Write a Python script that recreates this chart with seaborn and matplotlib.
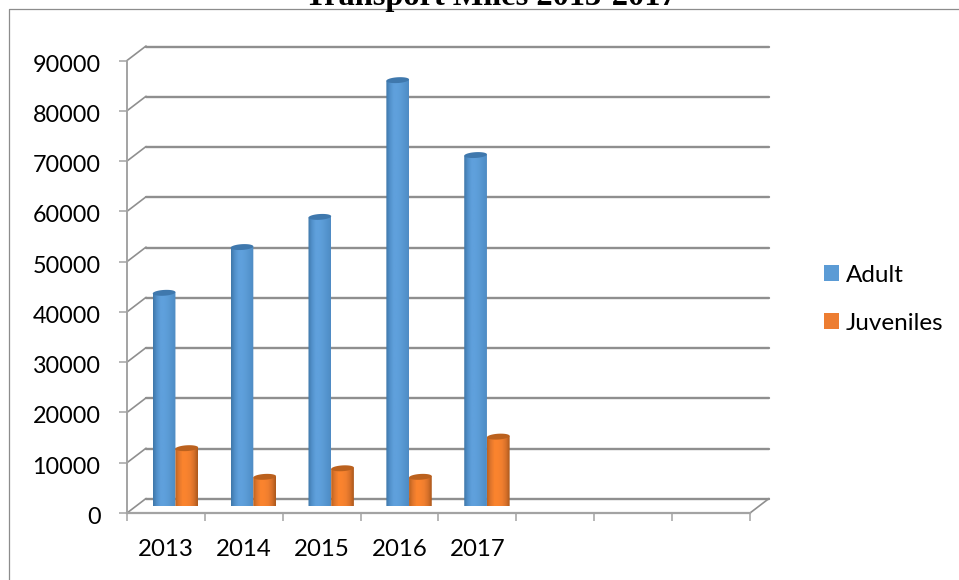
import numpy as np
import pandas as pd
import matplotlib
matplotlib.use("Agg")
import matplotlib.pyplot as plt
import seaborn as sns
from matplotlib.lines import Line2D
from matplotlib.path import Path
from matplotlib.patches import PathPatch
from matplotlib.colors import LinearSegmentedColormap
from matplotlib.transforms import ScaledTranslation

# Data
years = ["2013", "2014", "2015", "2016", "2017"]
adult = [42400, 51500, 57500, 84700, 69800]
juveniles = [11500, 5800, 7500, 5800, 13800]
y_ticks = [0, 10000, 20000, 30000, 40000, 50000, 60000, 70000, 80000, 90000]
n_slots = 8  # the axis keeps three empty categories after 2017

# Colors
GRID = "#8f8f8f"
AXIS = "#a3a3a3"
BLUE = "#5b9bd5"
ORANGE = "#ed7d31"
BLUE_RAMP = ["#3f77a9", "#5291cb", "#5fa0dc", "#5fa0dc", "#5b9bd5", "#5394ce", "#4f8bc3"]
ORANGE_RAMP = ["#bd6320", "#e2772d", "#fb842e", "#f9832e", "#ef7e2f", "#d8712a", "#ab581c"]
BLUE_TOP = "#3f78ad"
ORANGE_TOP = "#bb611e"

W, H = 959, 580


def px_axes(fig, left, bottom_y, right, top_y):
    # axes from pixel edges, y measured from the top of the image
    return fig.add_axes([left / W, 1 - bottom_y / H, (right - left) / W, (bottom_y - top_y) / H])


sns.set_theme(style="white")
plt.rcParams["font.family"] = ["Lato", "DejaVu Sans"]

fig = plt.figure(figsize=(W / 100, H / 100), dpi=100, facecolor="white")

# frame of the pasted picture: left and top only
fig.add_artist(Line2D([9 / W, 9 / W, 1], [0, 1 - 9 / H, 1 - 9 / H], color="#8c8c8c", lw=0.9))
fig.text(490.5 / W, 1 - 5 / H, "Transport Miles 2013-2017", family="Liberation Serif",
         fontweight="bold", fontsize=23.3, ha="center", va="baseline", color="black")

# three planes of the fake 3D box: back wall, front axes, bars in the middle
ax_back = px_axes(fig, 146, 499, 769, 46.5)
ax_front = px_axes(fig, 127, 513, 750, 60.5)
ax = px_axes(fig, 136.5, 506, 759.5, 53.5)

for a in (ax_back, ax_front, ax):
    a.set_xlim(-0.5, n_slots - 0.5)
    a.set_ylim(0, 90000)
    a.patch.set_alpha(0)
    sns.despine(ax=a, left=True, bottom=True)

ax_back.set_xticks([])
ax_back.set_yticks(y_ticks)
ax_back.set_yticklabels([])
ax_back.tick_params(left=False)
ax_back.grid(axis="y", color=GRID, lw=1.7)
for line in ax_back.get_ygridlines():
    line.set_clip_on(False)

# slanted connectors from the front axis to the back wall
dx = 19 * n_slots / 623
dy = 14.5 * 90000 / 452.5
for val in y_ticks:
    ax_front.plot([-0.5, -0.5 + dx], [val, val + dy], color=GRID, lw=1.2, clip_on=False)
ax_front.plot([n_slots - 0.5, n_slots - 0.5 + dx], [0, dy], color=GRID, lw=1.2, clip_on=False)
ax_front.set_xlim(-0.5, n_slots - 0.5)
ax_front.set_ylim(0, 90000)

ax_front.spines["left"].set_visible(True)
ax_front.spines["bottom"].set_visible(True)
ax_front.spines["left"].set_color(AXIS)
ax_front.spines["bottom"].set_color(AXIS)
ax_front.spines["left"].set_linewidth(1.4)
ax_front.spines["bottom"].set_linewidth(1.6)
ax_front.set_yticks(y_ticks)
ax_front.set_yticklabels([str(v) for v in y_ticks])
ax_front.set_xticks(np.arange(n_slots + 1) - 0.5)
ax_front.set_xticklabels([])
ax_front.set_xticks(np.arange(n_slots), minor=True)
ax_front.set_xticklabels(years + [""] * (n_slots - len(years)), minor=True)
ax_front.tick_params(axis="y", left=True, length=6, width=1.1, color=AXIS, pad=13,
                     labelsize=16.8, labelcolor="black")
ax_front.tick_params(axis="x", which="major", bottom=True, length=6, width=1.1, color=AXIS)
ax_front.tick_params(axis="x", which="minor", bottom=False, length=0, pad=18.5,
                     labelsize=17.3, labelcolor="black")
# the y labels sit a little below their ticks in the original
nudge = ScaledTranslation(0, -2.5 / 100, fig.dpi_scale_trans)
for label in ax_front.get_yticklabels():
    label.set_transform(label.get_transform() + nudge)

# flat bars first, they give the positions and heights of the cylinders
df = pd.DataFrame({
    "year": years * 2,
    "miles": adult + juveniles,
    "series": ["Adult"] * len(years) + ["Juveniles"] * len(years),
})
sns.barplot(data=df, x="year", y="miles", hue="series", order=years,
            palette=[BLUE, ORANGE], saturation=1, width=0.583, gap=0, errorbar=None, ax=ax)
handles, labels = ax.get_legend_handles_labels()
ax.get_legend().remove()
ax.set_xlim(-0.5, n_slots - 0.5)
ax.set_ylim(0, 90000)
ax.set_xlabel("")
ax.set_ylabel("")
ax.set_xticks([])
ax.set_yticks([])

# turn each bar into a shaded cylinder
sx = n_slots / 623
sy = 90000 / 452.5
ramps = [
    (LinearSegmentedColormap.from_list("adult", BLUE_RAMP), BLUE_TOP),
    (LinearSegmentedColormap.from_list("juv", ORANGE_RAMP), ORANGE_TOP),
]
t = np.linspace(0, 2 * np.pi, 61)
for container, (cmap, top_color) in zip(ax.containers, ramps):
    for bar in container:
        x0, w, h = bar.get_x(), bar.get_width(), bar.get_height()
        bar.set_visible(False)
        cx = x0 + w / 2
        ex = np.cos(t) * w / 2
        tilt = (ex / sx) * 0.06 * sy
        top_y = h + np.sin(t) * 2.9 * sy + tilt
        base_y = np.sin(t[30:]) * 2.6 * sy
        body_x = np.r_[cx + ex[:31], cx + ex[30:]]
        body_y = np.r_[h + tilt[:31], base_y]
        body = Path(np.c_[body_x, body_y])
        im = ax.imshow(np.linspace(0, 1, 64)[None, :], cmap=cmap, aspect="auto",
                       extent=(x0, x0 + w, -3 * sy, h + 5 * sy), zorder=3)
        im.set_clip_path(PathPatch(body, transform=ax.transData))
        ax.fill(cx + ex, top_y, color=top_color, lw=0, zorder=4, clip_on=False)
ax.set_xlim(-0.5, n_slots - 0.5)
ax.set_ylim(0, 90000)

for handle in handles:
    handle.set_linewidth(0)
fig.legend(handles, labels, loc="upper left", bbox_to_anchor=(802 / W, 1 - 243 / H),
           frameon=False, fontsize=17.5, handlelength=0.61, handleheight=0.62,
           handletextpad=0.3, labelspacing=1.1, labelcolor="black")

fig.savefig("out.png", dpi=100)
